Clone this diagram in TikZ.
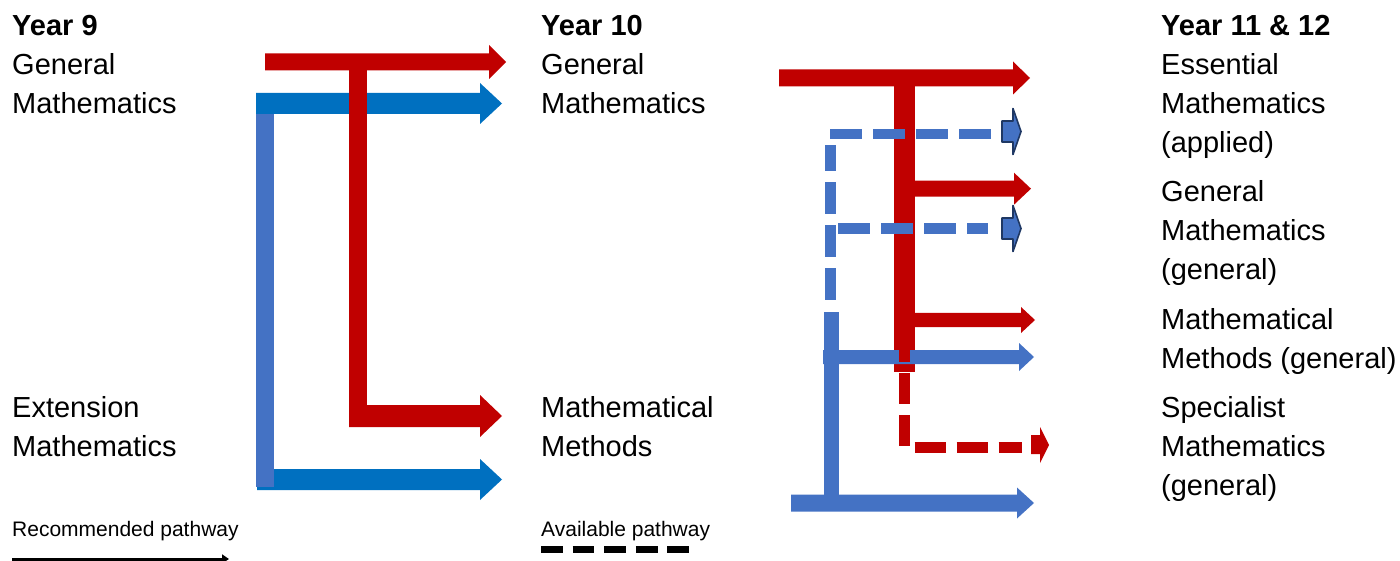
\documentclass[tikz,border=0pt]{standalone}
\usepackage{fontspec}
\setmainfont{Liberation Sans}
\usetikzlibrary{arrows.meta}
\definecolor{rd}{HTML}{C00000}
\definecolor{bA}{HTML}{0070C0}
\definecolor{bB}{HTML}{4472C4}
\definecolor{nv}{HTML}{1F3864}
% block arrow: colour, x start, x head base, x tip, y centre, half shaft, half head
\newcommand\harrow[7]{\fill[#1] (#2,#5-#6) -- (#3,#5-#6) -- (#3,#5-#7) -- (#4,#5) -- (#3,#5+#7) -- (#3,#5+#6) -- (#2,#5+#6) -- cycle;}
% text line: name, x, baseline y, text, extra style
\newcommand\lbl[5]{\node[lbl,#5] (#1) at (#2,#3) {#4};}
\begin{document}
\begin{tikzpicture}[x=1pt,y=-1pt,
  lbl/.style={anchor=base west,inner sep=0pt,font=\fontsize{29}{35}\selectfont},
  hdr/.style={font=\fontsize{29}{35}\selectfont\bfseries},
  leg/.style={font=\fontsize{21}{25}\selectfont},
  bdash/.style={draw=bB,line width=10.5pt,dash pattern=on 32pt off 11pt},
  rdash/.style={draw=rd,line width=11pt,dash pattern=on 31pt off 11pt},
  dhead/.style={fill=bB,draw=nv,line width=1.6pt,line join=round}]
\useasboundingbox (0,0) rectangle (1400,561);

% ---------- texts ----------
\lbl{y9}{12}{36}{Year 9}{hdr}
\lbl{y9a}{12}{75}{General}{}
\lbl{y9b}{12}{114}{Mathematics}{}
\lbl{y9c}{12}{417}{Extension}{}
\lbl{y9d}{12}{456}{Mathematics}{}

\lbl{y10}{541}{36}{Year 10}{hdr}
\lbl{y10a}{541}{75}{General}{}
\lbl{y10b}{541}{114}{Mathematics}{}
\lbl{y10c}{541}{417}{Mathematical}{}
\lbl{y10d}{541}{456}{Methods}{}

\lbl{y11}{1161}{36}{Year 11 \& 12}{hdr}
\lbl{e1}{1161}{75}{Essential}{}
\lbl{e2}{1161}{114}{Mathematics}{}
\lbl{e3}{1161}{153}{(applied)}{}
\lbl{g1}{1161}{202}{General}{}
\lbl{g2}{1161}{241}{Mathematics}{}
\lbl{g3}{1161}{280}{(general)}{}
\lbl{m1}{1161}{329}{Mathematical}{}
\lbl{m2}{1161}{368}{Methods (general)}{}
\lbl{s1}{1161}{417}{Specialist}{}
\lbl{s2}{1161}{456}{Mathematics}{}
\lbl{s3}{1161}{495}{(general)}{}

\lbl{rec}{12}{536}{Recommended pathway}{leg}
\lbl{ava}{541}{536}{Available pathway}{leg}

% ---------- legend lines ----------
\coordinate (r1) at (12,559);
\coordinate (r2) at (229,559);
\draw[line width=3pt,-{Triangle[length=7pt,width=9pt]}] (r1) -- (r2);
\coordinate (d1) at (541,549.5);
\coordinate (d2) at (690,549.5);
\draw[line width=7.5pt,dash pattern=on 21.8pt off 9.8pt] (d1) -- (d2);

% ---------- Year 9 -> Year 10 ----------
\harrow{bA}{256}{480}{502}{103.5}{10.5}{20.5}
\harrow{bA}{257}{480}{502}{479.5}{10.5}{20.5}
\fill[bB] (256,114) rectangle (274,487);
\harrow{rd}{265}{489}{506}{62}{8.5}{17}
\fill[rd] (349,62) rectangle (367,427);
\harrow{rd}{349}{480}{502}{416}{11}{21}

% ---------- Year 10 -> Year 11 & 12 ----------
\harrow{rd}{779}{1013}{1030}{78}{8.5}{16.5}
\fill[rd] (894,78) rectangle (915,372);
\harrow{rd}{914}{1014}{1031}{188.7}{8}{16}
\harrow{rd}{914}{1021}{1035}{320}{7}{13}

% blue dashed (available) pathways
\coordinate (h1a) at (830,134);
\coordinate (h1b) at (1001,134);
\draw[bdash] (h1a) -- (h1b);
\coordinate (h2a) at (838,228.5);
\coordinate (h2b) at (988,228.5);
\draw[bdash] (h2a) -- (h2b);
\coordinate (v1a) at (830.5,300);
\coordinate (v1b) at (830.5,145);
\draw[bdash,line width=11pt] (v1a) -- (v1b);
\filldraw[dhead] (1002,121) -- (1013,121) -- (1013,108.5) -- (1021,131.5) -- (1013,154.5) -- (1013,142) -- (1002,142) -- cycle;
\filldraw[dhead] (1002,218) -- (1013,218) -- (1013,205.5) -- (1021,228.5) -- (1013,251.5) -- (1013,239) -- (1002,239) -- cycle;

% blue solid
\fill[bB] (824,312) rectangle (839,497);
\harrow{bB}{791}{1017}{1034}{503}{8.5}{15.5}
\harrow{bB}{823}{1019}{1034}{357}{7}{14}

% red dashed (available) pathway
\coordinate (ra) at (904.5,331);
\coordinate (rb) at (904.5,447);
\coordinate (rc) at (1022,447);
\draw[rdash] (ra) -- (rb) -- (rc);
\fill[rd] (1031,435) -- (1040,435) -- (1040,427) -- (1049,445) -- (1040,463) -- (1040,454) -- (1031,454) -- cycle;
\end{tikzpicture}
\end{document}
